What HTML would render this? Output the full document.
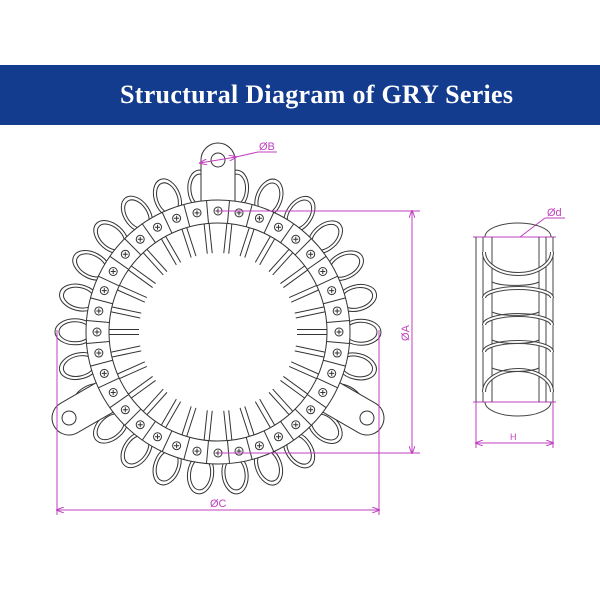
<!DOCTYPE html>
<html><head><meta charset="utf-8"><style>
body{margin:0;width:600px;height:600px;background:#fff;overflow:hidden}
.banner{position:absolute;left:0;top:65px;width:600px;height:60px;background:#133c8e}
.banner div{position:absolute;left:120px;top:15px;color:#fff;font:bold 26px "Liberation Serif",serif;letter-spacing:0.3px}
svg{position:absolute;left:0;top:0}
</style></head><body>
<div class="banner"><div>Structural Diagram of GRY Series</div></div>
<svg id="s" width="600" height="600" viewBox="0 0 600 600">
<defs><marker id="ar" markerWidth="8" markerHeight="6" refX="7" refY="3" orient="auto-start-reverse"><path d="M0,0 L8,3 L0,6" fill="none" stroke="#c040c0" stroke-width="1"/></marker></defs>
<g id="ring" fill="#fff" stroke="#333" stroke-width="1"></g>
<g fill="none" stroke="#c040c0" stroke-width="1">
<line x1="218" y1="211" x2="420" y2="211"/><line x1="218" y1="453" x2="420" y2="453"/>
<line x1="412" y1="211" x2="412" y2="453" marker-start="url(#ar)" marker-end="url(#ar)"/>
<line x1="57" y1="330" x2="57" y2="515"/><line x1="379" y1="330" x2="379" y2="515"/>
<line x1="57" y1="510" x2="379" y2="510" marker-start="url(#ar)" marker-end="url(#ar)"/>
<line x1="200" y1="163" x2="236" y2="157" marker-start="url(#ar)" marker-end="url(#ar)"/>
<line x1="236" y1="157" x2="258" y2="152"/><line x1="258" y1="152" x2="277" y2="152"/>
<line x1="473" y1="237" x2="556" y2="237"/><line x1="473" y1="402" x2="556" y2="402"/>
<line x1="476" y1="402" x2="476" y2="448"/><line x1="553" y1="402" x2="553" y2="448"/>
<line x1="476" y1="443" x2="553" y2="443" marker-start="url(#ar)" marker-end="url(#ar)"/>
<line x1="520" y1="237" x2="545" y2="218"/><line x1="545" y1="218" x2="565" y2="218"/>
</g>
<g fill="#c040c0" font-family="Liberation Sans,sans-serif" font-size="11">
<text x="259" y="150">ØB</text><text x="210" y="507">ØC</text>
<text x="547" y="216">Ød</text><text x="510" y="440" font-size="9">H</text>
<text transform="translate(409,333) rotate(-90)" text-anchor="middle">ØA</text>
</g>
<g fill="none" stroke="#444" stroke-width="1">
<line x1="476" y1="237" x2="476" y2="402"/><line x1="483" y1="237" x2="483" y2="402"/>
<line x1="553" y1="237" x2="553" y2="402"/><line x1="546" y1="237" x2="546" y2="402"/>
<line x1="492" y1="237" x2="492" y2="402"/><line x1="539" y1="237" x2="539" y2="402"/>
<path d="M485,237 A33,14 0 0 1 551,237"/><path d="M485,402 A33,14 0 0 0 551,402"/>
<path d="M484,252 A34,22 0 0 0 552,252" stroke-width="4"/><path d="M484,252 A34,22 0 0 0 552,252" stroke="#fff" stroke-width="2"/>
<path d="M484,298 A34,10 0 0 1 552,298" stroke-width="4"/><path d="M484,298 A34,10 0 0 1 552,298" stroke="#fff" stroke-width="2"/>
<path d="M484,325 A34,10 0 0 1 552,325" stroke-width="4"/><path d="M484,325 A34,10 0 0 1 552,325" stroke="#fff" stroke-width="2"/>
<path d="M484,352 A34,10 0 0 1 552,352" stroke-width="4"/><path d="M484,352 A34,10 0 0 1 552,352" stroke="#fff" stroke-width="2"/>
<path d="M484,392 A34,22 0 0 1 552,392" stroke-width="4"/><path d="M484,392 A34,22 0 0 1 552,392" stroke="#fff" stroke-width="2"/>
<path d="M492,282 A26,6 0 0 0 539,282"/><path d="M492,312 A26,6 0 0 0 539,312"/>
<path d="M492,340 A26,6 0 0 0 539,340"/><path d="M492,368 A26,6 0 0 0 539,368"/>
</g>
</svg>
<script>
var g=document.getElementById('ring'),cx=218,cy=332,h='';
function P(r,a){a=a*Math.PI/180;return [cx+r*Math.sin(a),cy-r*Math.cos(a)];}
// loops
for(var i=0;i<26;i++){var a=i*360/26+7;var c=P(143,a);
h+='<ellipse cx="'+c[0]+'" cy="'+c[1]+'" rx="13" ry="20" transform="rotate('+a+' '+c[0]+' '+c[1]+')"/>';
h+='<ellipse cx="'+c[0]+'" cy="'+c[1]+'" rx="10" ry="16" transform="rotate('+a+' '+c[0]+' '+c[1]+')"/>';}
// ears
function ear(a){var c=P(172,a);
h+='<g transform="translate('+c[0]+','+c[1]+') rotate('+a+')"><path d="M-17,0 A17,17 0 0 1 17,0 L17,45 L-17,45 Z"/><circle r="7" cx="0" cy="0"/></g>';}
ear(0);ear(240);ear(120);
// fingers
for(var i=0;i<30;i++){var a=i*12+6;var c=P(95,a);
h+='<path transform="translate('+c[0]+','+c[1]+') rotate('+a+')" d="M-2.5,16 L-2.5,-13 A2.5,2.5 0 0 1 2.5,-13 L2.5,16"/>';}
// band
h+='<path fill-rule="evenodd" d="M'+(cx-132)+','+cy+' a132,132 0 1 0 264,0 a132,132 0 1 0 -264,0 Z M'+(cx-109)+','+cy+' a109,109 0 1 0 218,0 a109,109 0 1 0 -218,0 Z"/>';
for(var i=0;i<36;i++){var a=i*10+5;var p=P(109,a),q=P(132,a);
h+='<line x1="'+p[0]+'" y1="'+p[1]+'" x2="'+q[0]+'" y2="'+q[1]+'"/>';
var s=P(121,i*10);h+='<circle cx="'+s[0]+'" cy="'+s[1]+'" r="4"/><path d="M'+(s[0]-2.5)+','+s[1]+'h5M'+s[0]+','+(s[1]-2.5)+'v5"/>';}
g.innerHTML=h;
</script>
</body></html>
